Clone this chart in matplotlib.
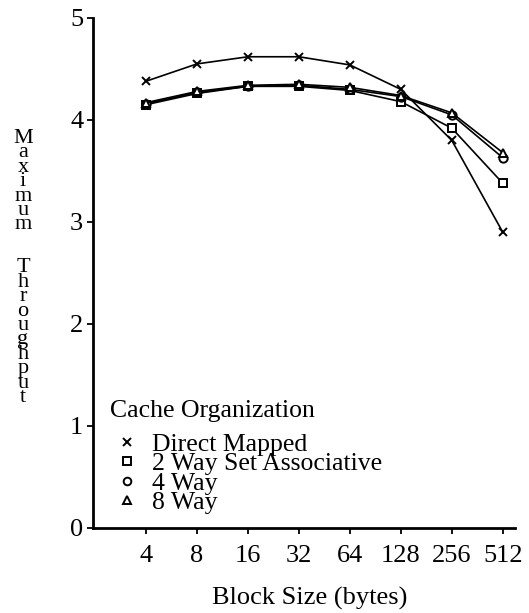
import numpy as np
import matplotlib.pyplot as plt

plt.rcParams['font.family'] = ['Liberation Serif', 'DejaVu Serif']

block_sizes = ['4', '8', '16', '32', '64', '128', '256', '512']
direct_mapped = [4.38, 4.55, 4.62, 4.62, 4.54, 4.30, 3.80, 2.90]
two_way = [4.15, 4.26, 4.33, 4.33, 4.29, 4.18, 3.92, 3.38]
four_way = [4.16, 4.27, 4.33, 4.34, 4.30, 4.23, 4.05, 3.63]
eight_way = [4.17, 4.28, 4.34, 4.35, 4.32, 4.24, 4.07, 3.68]

x = np.arange(len(block_sizes))
W, H = 529, 613

fig = plt.figure(figsize=(W / 100, H / 100), dpi=100)
ax = fig.add_axes([93 / W, 1 - 528 / H, 422 / W, 510 / H])

kw = dict(color='black', lw=1.2, markersize=6, markeredgewidth=1.4)
ax.plot(x, direct_mapped, marker='x', label='Direct Mapped', **kw)
ax.plot(x, two_way, marker='s', mfc='white', label='2 Way Set Associative', **kw)
ax.plot(x, four_way, marker='o', mfc='white', label='4 Way', **kw)
ax.plot(x, eight_way, marker='^', mfc='white', label='8 Way', **kw)

ax.set_xlim(-1.04, 7.24)
ax.set_ylim(0, 5)
ax.set_xticks(x)
ax.set_xticklabels(block_sizes)
ax.set_yticks([0, 1, 2, 3, 4, 5])
ax.tick_params(labelsize=19, length=4, width=1.3, colors='black')
ax.tick_params(axis='x', pad=8)
ax.tick_params(axis='y', pad=3)
for s in ['top', 'right']:
    ax.spines[s].set_visible(False)
for s in ['left', 'bottom']:
    ax.spines[s].set_linewidth(2.0)

fig.text(310 / W, 1 - 598 / H, 'Block Size (bytes)', fontsize=19,
         ha='center', va='center')

# y label as one column of stacked letters
ylab = '\n'.join('Maximum  Throughput')
fig.text(23 / W, 1 - 268 / H, ylab, fontsize=16, ha='center', va='center',
         linespacing=0.67)

fig.text(110 / W, 1 - 411 / H, 'Cache Organization', fontsize=18.5,
         ha='left', va='center')
leg = ax.legend(loc='upper left', bbox_to_anchor=(119 / W, 1 - 433 / H),
                bbox_transform=fig.transFigure, frameon=False, fontsize=18.5,
                labelspacing=-0.14, handlelength=0.6, handletextpad=0.67,
                borderpad=0, borderaxespad=0)
for h in leg.legend_handles:
    h.set_linestyle('none')
    h.set_markersize(5.5)

fig.savefig('out.png', dpi=100)
